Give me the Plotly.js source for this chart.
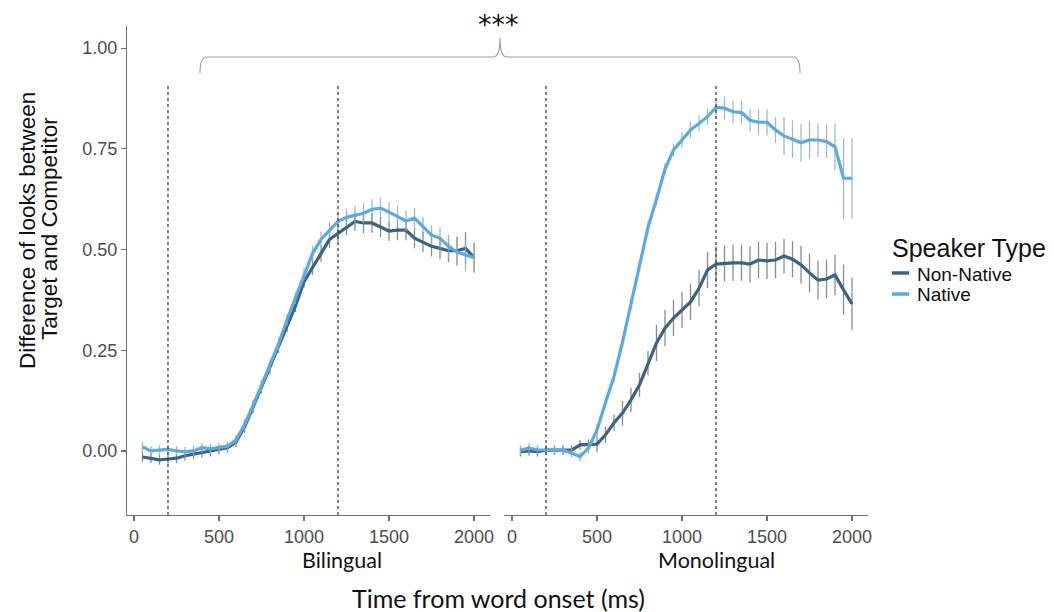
<!DOCTYPE html>
<html>
<head>
<meta charset="utf-8">
<script src="https://cdn.plot.ly/plotly-3.0.1.min.js"></script>
<style>html,body{margin:0;padding:0;background:#fff;}#chart{width:1054px;height:612px;}</style>
</head>
<body>
<div id="chart"></div>
<script>
// time points (ms)
const time = [50,100,150,200,250,300,350,400,450,500,550,600,650,700,750,800,850,900,950,1000,
              1050,1100,1150,1200,1250,1300,1350,1400,1450,1500,1550,1600,1650,1700,1750,1800,1850,1900,1950,2000];

// Bilingual panel
const bilNonNative = [-0.015,-0.018,-0.022,-0.02,-0.018,-0.012,-0.008,-0.005,-0.002,0.003,0.008,0.022,0.06,0.108,0.158,0.205,0.258,0.31,0.36,0.42,
                      0.457,0.49,0.525,0.54,0.556,0.57,0.566,0.566,0.556,0.546,0.548,0.548,0.528,0.519,0.508,0.503,0.497,0.497,0.503,0.48];
const bilNative    = [0.01,0.0,0.002,0.004,0.0,-0.002,0.0,0.008,0.005,0.008,0.012,0.027,0.065,0.112,0.162,0.212,0.265,0.325,0.38,0.44,
                      0.49,0.525,0.548,0.57,0.58,0.585,0.59,0.6,0.603,0.593,0.583,0.571,0.578,0.556,0.536,0.528,0.508,0.494,0.486,0.48];
const bilNonNativeErr = [0.012,0.012,0.012,0.012,0.012,0.012,0.012,0.012,0.012,0.012,0.012,0.012,0.015,0.015,0.015,0.015,0.015,0.015,0.015,0.015,
                         0.02,0.02,0.02,0.02,0.02,0.023,0.025,0.025,0.025,0.025,0.025,0.025,0.025,0.025,0.025,0.027,0.029,0.035,0.04,0.037];
const bilNativeErr    = [0.012,0.012,0.012,0.012,0.012,0.012,0.012,0.012,0.012,0.012,0.012,0.012,0.015,0.015,0.015,0.015,0.015,0.015,0.015,0.015,
                         0.02,0.02,0.02,0.02,0.02,0.023,0.025,0.025,0.025,0.025,0.025,0.025,0.025,0.025,0.025,0.027,0.03,0.035,0.04,0.037];

// Monolingual panel
const monoNonNative = [-0.002,0.0,-0.002,0.002,0.002,0.002,0.002,0.015,0.017,0.017,0.04,0.07,0.094,0.127,0.164,0.218,0.268,0.305,0.33,0.35,
                       0.37,0.404,0.449,0.464,0.466,0.467,0.467,0.464,0.474,0.472,0.474,0.484,0.476,0.462,0.442,0.424,0.427,0.437,0.40,0.365];
const monoNative    = [0.002,0.007,0.003,0.002,0.002,0.002,-0.005,-0.014,0.007,0.052,0.12,0.185,0.27,0.365,0.46,0.555,0.625,0.70,0.747,0.772,
                       0.797,0.813,0.83,0.853,0.851,0.842,0.84,0.821,0.816,0.816,0.797,0.782,0.774,0.765,0.772,0.772,0.768,0.755,0.677,0.677];
const monoNonNativeErr = [0.012,0.012,0.012,0.012,0.012,0.012,0.012,0.012,0.012,0.02,0.02,0.02,0.03,0.03,0.03,0.03,0.045,0.045,0.045,0.045,
                          0.045,0.045,0.045,0.045,0.045,0.045,0.045,0.045,0.045,0.045,0.045,0.043,0.045,0.047,0.048,0.048,0.048,0.05,0.062,0.065];
const monoNativeErr    = [0.012,0.012,0.012,0.012,0.012,0.012,0.012,0.012,0.012,0.015,0.015,0.015,0.015,0.015,0.015,0.015,0.015,0.015,0.015,0.02,
                          0.02,0.02,0.02,0.023,0.028,0.028,0.028,0.028,0.032,0.032,0.032,0.047,0.047,0.047,0.047,0.041,0.041,0.058,0.1,0.1];

const panels = ["Bilingual", "Monolingual"];
const seriesNames = ["Non-Native", "Native"];
const legendTitle = "Speaker Type";
const lineColors = ["#3A6385", "#5BAAE2"];
const errColors = ["rgba(120,120,120,0.85)", "rgba(150,172,190,0.85)"];
const vlines = [200, 1200];

function mk(x, y, err, i, xa) {
  return {
    x: x, y: y, type: "scatter", mode: "lines",
    name: seriesNames[i], showlegend: false,
    xaxis: xa, yaxis: "y",
    line: {color: lineColors[i], width: 3.2},
    error_y: {type: "data", array: err, visible: true, color: errColors[i], thickness: 1.3, width: 0},
    hoverinfo: "x+y+name"
  };
}

const data = [
  mk(time, bilNonNative, bilNonNativeErr, 0, "x"),
  mk(time, bilNative, bilNativeErr, 1, "x"),
  mk(time, monoNonNative, monoNonNativeErr, 0, "x2"),
  mk(time, monoNative, monoNativeErr, 1, "x2")
];

const tickFont = {family: "Liberation Sans, Arial, sans-serif", size: 18, color: "#4d4d4d"};
const axisCommon = {
  showgrid: false, zeroline: false, showline: true, linecolor: "#707070", linewidth: 1.2,
  ticks: "outside", ticklen: 5, tickcolor: "#707070", tickwidth: 1.2,
  tickfont: tickFont, tickvals: [0, 500, 1000, 1500, 2000], ticktext: ["0","500","1000","1500","2000"]
};

const shapes = [];
["x", "x2"].forEach(function (xr) {
  vlines.forEach(function (v) {
    shapes.push({type: "line", xref: xr, yref: "y", x0: v, x1: v, y0: -0.159, y1: 0.913,
                 line: {color: "#333333", width: 1.2, dash: "dot"}});
  });
});
// significance bracket (paper coordinates)
shapes.push({
  type: "path", xref: "paper", yref: "paper",
  path: "M 0.0985,0.9039 Q 0.0985,0.9366 0.108,0.9366 L 0.494,0.9366 Q 0.5034,0.9366 0.5034,0.9755 Q 0.5034,0.9366 0.5128,0.9366 L 0.8988,0.9366 Q 0.9082,0.9366 0.9082,0.9039",
  line: {color: "#a0a0a0", width: 1.2}
});
// legend keys
const legendKeyY = [0.4949, 0.4519];
legendKeyY.forEach(function (yy, i) {
  shapes.push({type: "line", xref: "paper", yref: "paper", x0: 1.0324, x1: 1.0553, y0: yy, y1: yy,
               line: {color: lineColors[i], width: 3.5}});
});

const sans = "Liberation Sans, Arial, sans-serif";
const labFont = {family: "Lato, Open Sans, sans-serif", size: 21.5, color: "#111"};
const annotations = [
  {text: "***", xref: "paper", yref: "paper", x: 0.5007, y: 1.004, xanchor: "center", yanchor: "middle",
   showarrow: false, font: {family: "DejaVu Sans, sans-serif", size: 27, color: "#111"}},
  {text: panels[0], xref: "paper", yref: "paper", x: 0.2901, y: -0.092, xanchor: "center", yanchor: "middle",
   showarrow: false, font: labFont},
  {text: panels[1], xref: "paper", yref: "paper", x: 0.7962, y: -0.092, xanchor: "center", yanchor: "middle",
   showarrow: false, font: labFont},
  {text: "Time from word onset (ms)", xref: "paper", yref: "paper", x: 0.5007, y: -0.1697, xanchor: "center", yanchor: "middle",
   showarrow: false, font: {family: "Lato, Open Sans, sans-serif", size: 25, color: "#111"}},
  {text: "Difference of looks between", xref: "paper", yref: "paper", x: -0.135, y: 0.5828, xanchor: "center", yanchor: "middle",
   textangle: -90, showarrow: false, font: {family: sans, size: 22.5, color: "#111"}},
  {text: "Target and Competitor", xref: "paper", yref: "paper", x: -0.1053, y: 0.5869, xanchor: "center", yanchor: "middle",
   textangle: -90, showarrow: false, font: {family: sans, size: 22.5, color: "#111"}},
  {text: legendTitle, xref: "paper", yref: "paper", x: 1.0297, y: 0.546, xanchor: "left", yanchor: "middle",
   showarrow: false, font: {family: sans, size: 25, color: "#111"}},
  {text: seriesNames[0], xref: "paper", yref: "paper", x: 1.0634, y: 0.4928, xanchor: "left", yanchor: "middle",
   showarrow: false, font: {family: sans, size: 19, color: "#111"}},
  {text: seriesNames[1], xref: "paper", yref: "paper", x: 1.0634, y: 0.4499, xanchor: "left", yanchor: "middle",
   showarrow: false, font: {family: sans, size: 19, color: "#111"}}
];

const layout = {
  width: 1054, height: 612,
  margin: {l: 127, r: 186, t: 26, b: 97, pad: 0},
  paper_bgcolor: "#ffffff", plot_bgcolor: "#ffffff",
  showlegend: false,
  xaxis: Object.assign({}, axisCommon, {domain: [0, 0.48988], range: [-41, 2094], anchor: "y"}),
  xaxis2: Object.assign({}, axisCommon, {domain: [0.50877, 1], range: [-47, 2094], anchor: "y"}),
  yaxis: {
    range: [-0.159, 1.055], showgrid: false, zeroline: false, showline: true, linecolor: "#707070", linewidth: 1.2,
    ticks: "outside", ticklen: 5, tickcolor: "#707070", tickwidth: 1.2,
    tickvals: [0, 0.25, 0.5, 0.75, 1], tickformat: ".2f", tickfont: tickFont, anchor: "x"
  },
  shapes: shapes,
  annotations: annotations
};

Plotly.newPlot("chart", data, layout, {staticPlot: true, displayModeBar: false});
</script>
</body>
</html>
